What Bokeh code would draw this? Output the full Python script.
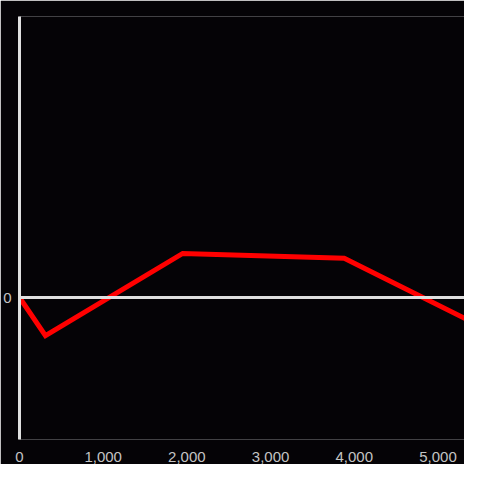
from bokeh.plotting import figure
from bokeh.models import Range1d, Span, FixedTicker, NumeralTickFormatter
from bokeh.embed import file_html
from bokeh.resources import INLINE

x_vals = [0, 310, 1950, 3880, 5500]
y_vals = [0, -39, 45, 40, -29]
x_ticks = [0, 1000, 2000, 3000, 4000, 5000]
y_ticks = [0]

BG = "#050306"
AX = "#e0e0e0"
LBL = "#c4c4c4"

p = figure(width=464, height=464, output_backend="svg", toolbar_location=None,
           x_range=Range1d(0, 5317), y_range=Range1d(-145, 287),
           min_border_left=12, min_border_right=0, min_border_top=16, min_border_bottom=16)
p.background_fill_color = BG
p.border_fill_color = BG
p.outline_line_color = None
p.grid.visible = False

p.add_layout(Span(location=0, dimension="width", line_color=AX, line_width=3))

p.line(x_vals, y_vals, line_color="#ff0000", line_width=5, line_join="miter")

p.xaxis.ticker = FixedTicker(ticks=x_ticks)
p.xaxis.formatter = NumeralTickFormatter(format="0,0")
p.xaxis.axis_line_color = None
p.xaxis.major_tick_line_color = None
p.xaxis.minor_tick_line_color = None
p.xaxis.major_label_standoff = 6
p.xaxis.major_label_text_color = LBL
p.xaxis.major_label_text_font = "Liberation Sans"
p.xaxis.major_label_text_font_size = "15px"

p.yaxis.ticker = FixedTicker(ticks=y_ticks)
p.yaxis.axis_line_color = AX
p.yaxis.axis_line_width = 3
p.yaxis.major_tick_line_color = None
p.yaxis.minor_tick_line_color = None
p.yaxis.major_label_standoff = 2
p.yaxis.major_label_text_color = LBL
p.yaxis.major_label_text_font = "Liberation Sans"
p.yaxis.major_label_text_font_size = "15px"

open("out.html", "w").write(file_html(p, INLINE))
